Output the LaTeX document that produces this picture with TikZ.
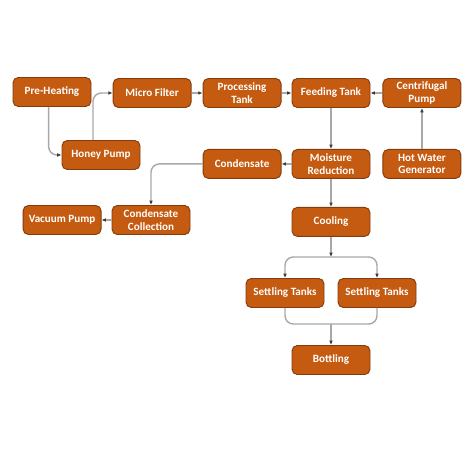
\documentclass[tikz,border=0pt]{standalone}
\usepackage{fontspec}
\setmainfont{Carlito}
\usepackage{tikz}
\usetikzlibrary{positioning}
\usetikzlibrary{arrows.meta}
\definecolor{boxfill}{RGB}{197,90,17}
\definecolor{boxline}{RGB}{132,60,12}
\definecolor{linkgray}{RGB}{168,168,168}
\definecolor{tipgray}{RGB}{60,60,60}
\tikzset{
  box/.style={draw=boxline, fill=boxfill, line width=0.8pt, rounded corners=1.6mm,
    minimum width=23.4mm, minimum height=8.7mm, inner sep=1pt, align=center,
    text=white, font=\fontsize{9.5}{11}\selectfont\bfseries},
  link/.style={draw=linkgray, line width=1.2pt, rounded corners=2.5mm,
    -{Latex[length=1.3mm,width=1.1mm,color=tipgray]}},
  joint/.style={draw=linkgray, line width=1.2pt, rounded corners=2.5mm}
}

\begin{document}
\begin{tikzpicture}[x=0.3mm, y=-0.3mm]
  \fill[white] (0,0) rectangle (474,474);
  \useasboundingbox (0,0) rectangle (474,474);
  % top row
  \node[box] (feed) at (331,93) {Feeding Tank};
  \node[box] (proc) [left=3mm of feed] {Processing\\Tank};
  \node[box] (micro) [left=3.3mm of proc] {Micro Filter};
  \node[box] (cent) [right=3.6mm of feed] {Centrifugal\\Pump};
  \node[box] (pre) at (52,92) {Pre-Heating};
  \node[box] (honey) at (101,155) {Honey Pump};
  % middle rows
  \node[box] (moist) [below=12.3mm of feed] {Moisture\\Reduction};
  \node[box] (hot) [below=12.3mm of cent] {Hot Water\\Generator};
  \node[box] (cond) [left=3mm of moist] {Condensate};
  \node[box] (cool) [below=8.4mm of moist] {Cooling};
  \node[box] (coll) at (151,220) {Condensate\\Collection};
  \node[box] (vac) [left=3mm of coll] {Vacuum Pump};
  % bottom
  \node[box] (set1) at (285,293) {Settling Tanks};
  \node[box] (set2) at (377,293) {Settling Tanks};
  \node[box] (bottle) at (331,360) {Bottling};
  \coordinate (split) at (331,257);
  \coordinate (join) at (331,324);

  \draw[link] ([xshift=-1mm]pre.south) |- (honey.west);
  \draw[link] ([xshift=-2.4mm]honey.north) |- (micro.west);
  \draw[link] (micro) -- (proc);
  \draw[link] (proc) -- (feed);
  \draw[link] (cent) -- (feed);
  \draw[link] (hot) -- (cent);
  \draw[link] (feed) -- (moist);
  \draw[link] (moist) -- (cond);
  \draw[link] (cond.west) -| (coll.north);
  \draw[link] (coll) -- (vac);
  \draw[link] (moist) -- (cool);
  \draw[link] (cool.south) -- (split);
  \draw[link] (split) -| (set1.north);
  \draw[link] (split) -| (set2.north);
  \draw[joint] (set1.south) |- (join);
  \draw[joint] (set2.south) |- (join);
  \draw[link] (join) -- (bottle.north);
\end{tikzpicture}
\end{document}
